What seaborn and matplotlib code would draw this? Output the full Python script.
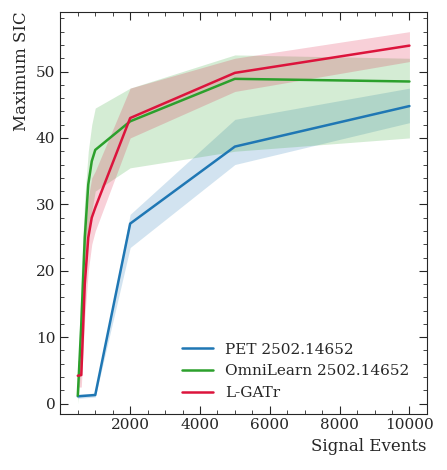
import matplotlib
matplotlib.use("Agg")
import matplotlib.pyplot as plt
import seaborn as sns
import pandas as pd

sns.set_style("ticks")
plt.rcParams["font.family"] = ["DejaVu Serif"]
plt.rcParams["xtick.direction"] = "in"
plt.rcParams["ytick.direction"] = "in"

pet_x = [500, 1000, 2000, 5000, 10000]
pet_y = [1.1, 1.3, 27.1, 38.7, 44.8]
pet_lo = [0.8, 1.0, 23.5, 36.0, 42.3]
pet_hi = [1.4, 1.6, 28.5, 42.8, 47.5]

omni_x = [500, 600, 700, 800, 900, 1000, 2000, 5000, 10000]
omni_y = [1.2, 12.0, 25.0, 33.0, 36.5, 38.2, 42.5, 48.9, 48.5]
omni_lo = [0.0, 6.0, 18.0, 25.0, 29.0, 32.0, 35.5, 38.0, 40.0]
omni_hi = [3.0, 20.0, 31.0, 38.0, 42.0, 44.5, 47.5, 52.5, 52.0]

lg_x = [500, 600, 700, 800, 900, 1000, 2000, 5000, 10000]
lg_y = [4.2, 4.3, 18.0, 25.0, 28.0, 29.5, 43.0, 49.8, 53.9]
lg_lo = [2.5, 2.5, 13.0, 20.0, 24.0, 26.0, 40.0, 47.0, 51.5]
lg_hi = [6.5, 6.5, 25.0, 31.0, 34.0, 35.0, 47.5, 52.0, 56.0]

fig, ax = plt.subplots(figsize=(4.47, 4.7), dpi=100)
series = [("PET 2502.14652", pet_x, pet_y, pet_lo, pet_hi, "#1f77b4"),
          ("OmniLearn 2502.14652", omni_x, omni_y, omni_lo, omni_hi, "#2ca02c"),
          ("L-GATr", lg_x, lg_y, lg_lo, lg_hi, "#dc143c")]
for name, x, y, lo, hi, c in series:
    df = pd.DataFrame({"x": x, "y": y})
    sns.lineplot(data=df, x="x", y="y", ax=ax, color=c, label=name, lw=1.8)
    ax.fill_between(x, lo, hi, color=c, alpha=0.2, lw=0)

ax.set_xlim(0, 10500)
ax.set_ylim(-1.5, 59)
ax.set_xticks([2000, 4000, 6000, 8000, 10000])
ax.set_yticks([0, 10, 20, 30, 40, 50])
ax.minorticks_on()
ax.tick_params(which="both", top=True, right=True, direction="in", labelsize=11)
ax.tick_params(which="major", length=6)
ax.tick_params(which="minor", length=3)
ax.set_xlabel("Signal Events", fontsize=12, loc="right")
ax.set_ylabel("Maximum SIC", fontsize=12, loc="top")
ax.legend(loc="lower right", bbox_to_anchor=(0.99, 0.0), frameon=False, fontsize=11)
fig.subplots_adjust(left=0.135, right=0.955, top=0.975, bottom=0.12)
fig.savefig("out.png", dpi=100)
